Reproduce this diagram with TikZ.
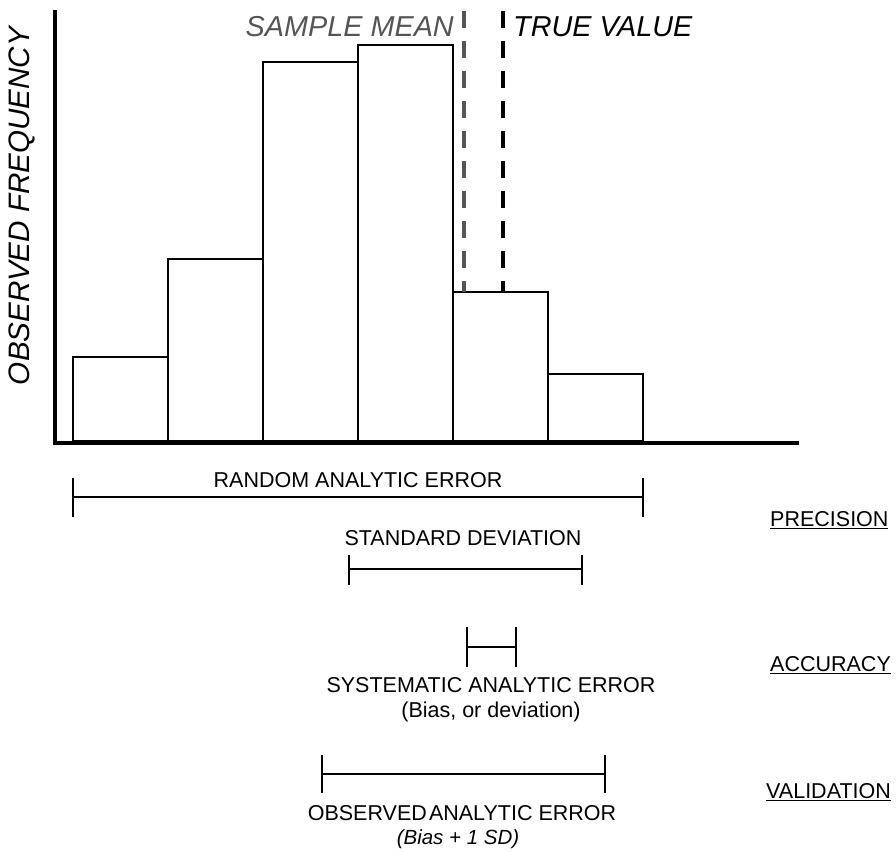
\documentclass[tikz,border=0pt]{standalone}
\usepackage{fontspec}
\setmainfont{Liberation Sans}
\begin{document}
\begin{tikzpicture}[x=1pt,y=-1pt,
  bar/.style={draw=black,line width=1.4pt,fill=white},
  axisline/.style={line width=3.8pt},
  meanline/.style={line width=3.8pt,dash pattern=on 17pt off 13pt,draw=meangray},
  bracketline/.style={line width=2.4pt},
  lbl/.style={inner sep=0pt,font=\fontsize{21.5}{24}\selectfont},
  ilbl/.style={inner sep=0pt,font=\fontsize{20.5}{23}\selectfont\itshape},
  toplbl/.style={inner sep=0pt,font=\fontsize{28.8}{32}\selectfont\itshape},
  sidelbl/.style={inner sep=0pt,anchor=west,font=\fontsize{21.5}{24}\selectfont},
]
\definecolor{meangray}{HTML}{555555}
\useasboundingbox (0,0) rectangle (896,851);
\fill[white] (0,0) rectangle (896,851);

% bars
\draw[bar] (73,441) rectangle (168,357);
\draw[bar] (168,441) rectangle (263,259);
\draw[bar] (263,441) rectangle (358,62);
\draw[bar] (358,441) rectangle (453,45);
\draw[bar] (453,441) rectangle (548,292);
\draw[bar] (548,441) rectangle (643,374);

% axes
\coordinate (ytop) at (55,12);
\coordinate (orig) at (55,443);
\coordinate (xend) at (797,443);
\draw[axisline,line cap=rect] (ytop) -- (orig) -- (xend);

% mean / true value lines
\coordinate (m1) at (464,11);
\coordinate (m2) at (464,292);
\coordinate (t1) at (503,11);
\coordinate (t2) at (503,292);
\draw[meanline] (m1) -- (m2);
\draw[meanline,draw=black] (t1) -- (t2);

\node[toplbl,anchor=east,text=meangray] (samplemean) at (454,27) {SAMPLE MEAN};
\node[toplbl,anchor=west] (truevalue) at (513,27) {TRUE VALUE};

\node[inner sep=0pt,rotate=90,font=\fontsize{29.6}{32}\selectfont\itshape] (ylabel) at (22,206) {OBSERVED FREQUENCY};

% random analytic error
\node[lbl] (random) at (358,480) {RANDOM ANALYTIC ERROR};
\coordinate (r1) at (73,497);
\coordinate (r2) at (643,497);
\draw[bracketline] (r1) -- (r2);
\draw[bracketline] (73,478) -- (73,517);
\draw[bracketline] (643,478) -- (643,517);

% standard deviation
\node[lbl] (sd) at (463,538) {STANDARD DEVIATION};
\coordinate (s1) at (349,569);
\coordinate (s2) at (582,569);
\draw[bracketline] (s1) -- (s2);
\draw[bracketline] (349,555) -- (349,585);
\draw[bracketline] (582,555) -- (582,585);

% systematic
\coordinate (a1) at (467,647);
\coordinate (a2) at (516,647);
\draw[bracketline] (a1) -- (a2);
\draw[bracketline] (467,627) -- (467,667);
\draw[bracketline] (516,627) -- (516,667);
\node[lbl] (syst) at (491,685) {SYSTEMATIC ANALYTIC ERROR};
\node[lbl] (bias) at (491,712) {(Bias, or deviation)};

% observed
\coordinate (v1) at (322,774);
\coordinate (v2) at (605,774);
\draw[bracketline] (v1) -- (v2);
\draw[bracketline] (322,755) -- (322,793);
\draw[bracketline] (605,755) -- (605,793);
\node[lbl] (obs) at (462,813) {OBSERVED\hspace{0.1em}ANALYTIC ERROR};
\node[ilbl] (biassd) at (458,839) {(Bias + 1 SD)};

% side labels
\node[sidelbl] (prec) at (770,520) {\underline{PRECISION}};
\node[sidelbl] (acc) at (770,665) {\underline{ACCURACY}};
\node[sidelbl] (val) at (766,792) {\underline{VALIDATION}};
\end{tikzpicture}
\end{document}
